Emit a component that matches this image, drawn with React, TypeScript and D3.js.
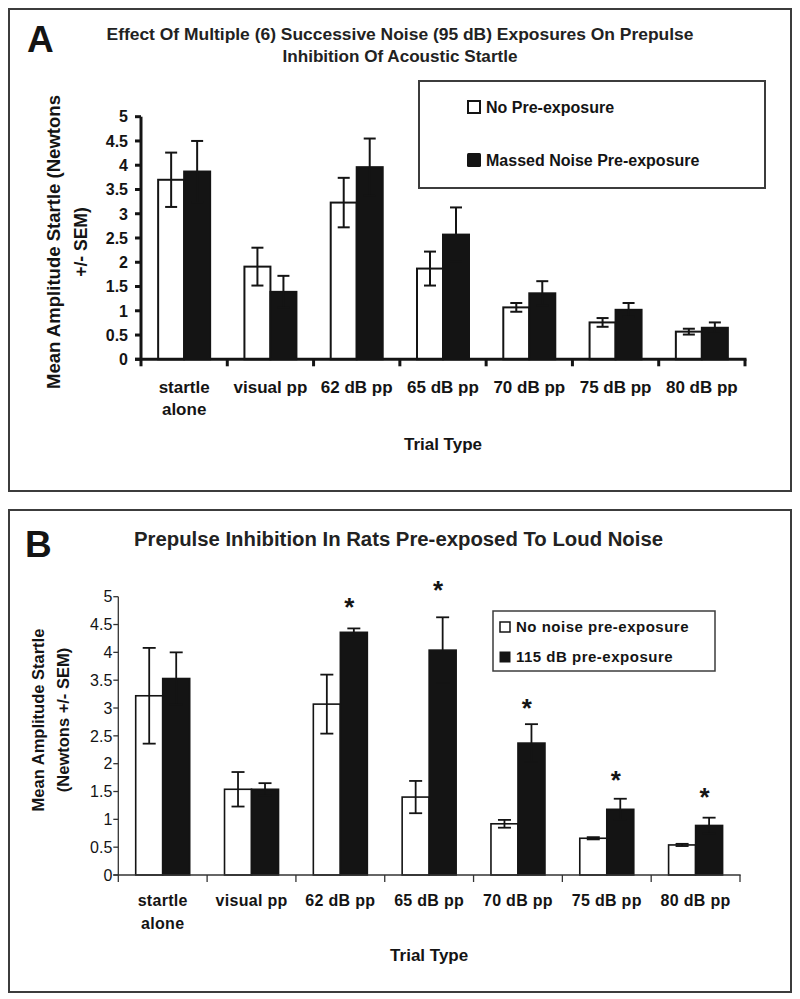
import React from "react";
import * as d3 from "d3";

// ---------- DATA ----------
const categories = ["startle alone", "visual pp", "62 dB pp", "65 dB pp", "70 dB pp", "75 dB pp", "80 dB pp"];
const categoryLines = [["startle", "alone"], ["visual pp"], ["62 dB pp"], ["65 dB pp"], ["70 dB pp"], ["75 dB pp"], ["80 dB pp"]];
const yTicks = [0, 0.5, 1, 1.5, 2, 2.5, 3, 3.5, 4, 4.5, 5];

// Panel A
const noPreA = [3.70, 1.91, 3.23, 1.87, 1.07, 0.76, 0.57];
const noPreASem = [0.56, 0.39, 0.51, 0.35, 0.09, 0.09, 0.06];
const massedA = [3.87, 1.39, 3.96, 2.57, 1.36, 1.02, 0.65];
const massedASem = [0.63, 0.33, 0.59, 0.56, 0.25, 0.14, 0.11];
const seriesNamesA = ["No Pre-exposure", "Massed Noise Pre-exposure"];

// Panel B
const noNoiseB = [3.22, 1.54, 3.07, 1.40, 0.92, 0.66, 0.54];
const noNoiseBSem = [0.86, 0.31, 0.53, 0.29, 0.07, 0.02, 0.02];
const db115B = [3.53, 1.54, 4.36, 4.04, 2.37, 1.18, 0.89];
const db115BSem = [0.47, 0.11, 0.07, 0.59, 0.34, 0.19, 0.14];
const sigStarB = [null, null, 4.90, 5.21, 3.09, 1.80, 1.49];
const seriesNamesB = ["No noise pre-exposure", "115 dB pre-exposure"];

const FONT = "'Liberation Sans', Arial, Helvetica, sans-serif";
const BLACK = "#141414";

type PanelProps = {
  left: number; right: number; top: number; bottom: number;
  white: number[]; whiteSem: number[]; black: number[]; blackSem: number[];
  barW: number; axisW: number; axisColor: string; barStroke: number; errW: number; capW: number;
  tickFont: number; tickBold: boolean; tickLabelGap: number; tickLen: number;
  catFont: number; catBase: number; catLineH: number; catSpacing: number;
  trialBase: number; trialFont: number;
  stars?: (number | null)[];
};

function Panel(p: PanelProps) {
  const x = d3.scaleBand<string>().domain(categories).range([p.left, p.right]).padding(0);
  const y = d3.scaleLinear().domain([0, 5]).range([p.bottom, p.top]);
  const inner = d3.scaleBand<string>().domain(["w", "b"]).range([-p.barW, p.barW]).padding(0);
  const bw = inner.bandwidth();
  const boundaries = [...categories.map((c) => x(c) as number), p.right];

  const bars: React.ReactNode[] = [];
  categories.forEach((c, i) => {
    const cx = (x(c) as number) + x.bandwidth() / 2;
    const groups: [string, number, number, string][] = [
      ["w", p.white[i], p.whiteSem[i], "#ffffff"],
      ["b", p.black[i], p.blackSem[i], BLACK],
    ];
    groups.forEach(([k, v, s, fill]) => {
      const bx = cx + (inner(k) as number);
      const mid = bx + bw / 2;
      bars.push(
        <rect key={`r${i}${k}`} x={bx} y={y(v)} width={bw} height={y(0) - y(v)} fill={fill} stroke={BLACK} strokeWidth={p.barStroke} />
      );
      const yt = y(v + s), yb = y(v - s);
      bars.push(
        <g key={`e${i}${k}`} stroke={BLACK} strokeWidth={p.errW}>
          <line x1={mid} x2={mid} y1={yt} y2={yb} />
          <line x1={mid - p.capW / 2} x2={mid + p.capW / 2} y1={yt} y2={yt} />
          <line x1={mid - p.capW / 2} x2={mid + p.capW / 2} y1={yb} y2={yb} />
        </g>
      );
    });
    if (p.stars && p.stars[i] != null) {
      const sx = cx + bw * 0.33;
      bars.push(
        <text key={`s${i}`} x={sx} y={y(p.stars[i] as number) + 14} fontSize={26} fontWeight="bold" textAnchor="middle" fontFamily={FONT} fill={BLACK}>*</text>
      );
    }
  });

  return (
    <g>
      {bars}
      {/* y axis */}
      <line x1={p.left} x2={p.left} y1={p.top} y2={p.bottom} stroke={p.axisColor} strokeWidth={p.axisW} />
      {yTicks.map((t) => (
        <g key={`yt${t}`}>
          <line x1={p.left - p.tickLen} x2={p.left} y1={y(t)} y2={y(t)} stroke={p.axisColor} strokeWidth={p.axisW} />
          <text x={p.left - p.tickLabelGap} y={y(t)} dy="0.36em" textAnchor="end" fontSize={p.tickFont} fontWeight={p.tickBold ? "bold" : "normal"} fontFamily={FONT} fill={BLACK}>{t}</text>
        </g>
      ))}
      {/* x axis */}
      <line x1={p.left - p.tickLen} x2={p.right + p.axisW / 2} y1={p.bottom} y2={p.bottom} stroke={p.axisColor} strokeWidth={p.axisW} />
      {boundaries.map((bx, i) => (
        <line key={`xt${i}`} x1={bx} x2={bx} y1={p.bottom} y2={p.bottom + 7} stroke={p.axisColor} strokeWidth={p.axisW} />
      ))}
      {categories.map((c, i) => (
        <text key={`xl${i}`} x={(x(c) as number) + x.bandwidth() / 2} y={p.catBase} textAnchor="middle" fontSize={p.catFont} fontWeight="bold" fontFamily={FONT} fill={BLACK} letterSpacing={p.catSpacing}>
          {categoryLines[i].map((ln, j) => (
            <tspan key={j} x={(x(c) as number) + x.bandwidth() / 2} dy={j === 0 ? 0 : p.catLineH}>{ln}</tspan>
          ))}
        </text>
      ))}
      <text x={(p.left + p.right) / 2} y={p.trialBase} textAnchor="middle" fontSize={p.trialFont} fontWeight="bold" fontFamily={FONT} fill={BLACK}>Trial Type</text>
    </g>
  );
}

export default function App() {
  return (
    <svg width={800} height={999} style={{ position: "absolute", left: 0, top: 0, display: "block", background: "#fff" }}>
      <rect x={0} y={0} width={800} height={999} fill="#fff" />
      {/* ---------- Panel A ---------- */}
      <rect x={9} y={9} width={782} height={482} fill="none" stroke="#3c3c3c" strokeWidth={2} />
      <text x={27} y={52} fontSize={37} fontWeight="bold" fontFamily={FONT} fill={BLACK}>A</text>
      <text x={400} y={40} textAnchor="middle" fontSize={16.5} fontWeight="bold" fontFamily={FONT} fill="#222" textLength={587} lengthAdjust="spacingAndGlyphs">Effect Of Multiple (6) Successive Noise (95 dB) Exposures On Prepulse</text>
      <text x={400} y={62} textAnchor="middle" fontSize={16.5} fontWeight="bold" fontFamily={FONT} fill="#222" textLength={235} lengthAdjust="spacingAndGlyphs">Inhibition Of Acoustic Startle</text>
      <g transform="translate(60,242) rotate(-90)">
        <text x={0} y={0} textAnchor="middle" fontSize={17.5} fontWeight="bold" fontFamily={FONT} fill={BLACK} textLength={294} lengthAdjust="spacingAndGlyphs">Mean Amplitude Startle (Newtons</text>
        <text x={0} y={27} textAnchor="middle" fontSize={17.5} fontWeight="bold" fontFamily={FONT} fill={BLACK}>+/- SEM)</text>
      </g>
      <rect x={419} y={81} width={346} height={107} fill="#fff" stroke="#3c3c3c" strokeWidth={2} />
      <rect x={468} y={101} width={12} height={12} fill="#fff" stroke={BLACK} strokeWidth={2} />
      <text x={486} y={113} fontSize={16} fontWeight="bold" fontFamily={FONT} fill={BLACK}>{seriesNamesA[0]}</text>
      <rect x={467} y={153} width={14} height={14} fill={BLACK} rx={1.5} />
      <text x={486} y={166} fontSize={16} fontWeight="bold" fontFamily={FONT} fill={BLACK}>{seriesNamesA[1]}</text>
      <Panel
        left={141} right={745} top={116.7} bottom={359.3}
        white={noPreA} whiteSem={noPreASem} black={massedA} blackSem={massedASem}
        barW={26} axisW={3} axisColor={BLACK} barStroke={2} errW={2} capW={12}
        tickFont={16} tickBold={true} tickLabelGap={13} tickLen={6}
        catFont={17} catBase={393} catLineH={22} catSpacing={0}
        trialBase={450} trialFont={17}
      />

      {/* ---------- Panel B ---------- */}
      <rect x={9} y={510} width={782} height={482} fill="none" stroke="#3c3c3c" strokeWidth={2} />
      <text x={25} y={557} fontSize={37} fontWeight="bold" fontFamily={FONT} fill={BLACK}>B</text>
      <text x={398.5} y={546} textAnchor="middle" fontSize={19.5} fontWeight="bold" fontFamily={FONT} fill="#222" textLength={529} lengthAdjust="spacingAndGlyphs">Prepulse Inhibition In Rats Pre-exposed To Loud Noise</text>
      <g transform="translate(44,720) rotate(-90)">
        <text x={0} y={0} textAnchor="middle" fontSize={16.5} fontWeight="bold" fontFamily={FONT} fill={BLACK}>Mean Amplitude Startle</text>
        <text x={0} y={25} textAnchor="middle" fontSize={16.5} fontWeight="bold" fontFamily={FONT} fill={BLACK}>(Newtons +/- SEM)</text>
      </g>
      <rect x={493} y={611} width={222} height={60} fill="#fff" stroke="#3c3c3c" strokeWidth={1.5} />
      <rect x={500} y={622} width={10} height={10} fill="#fff" stroke={BLACK} strokeWidth={1.5} />
      <text x={516} y={632} fontSize={15} fontWeight="bold" fontFamily={FONT} fill={BLACK} letterSpacing={0.5}>{seriesNamesB[0]}</text>
      <rect x={499.5} y={651.5} width={11} height={11} fill={BLACK} />
      <text x={516} y={662} fontSize={15} fontWeight="bold" fontFamily={FONT} fill={BLACK} letterSpacing={0.5}>{seriesNamesB[1]}</text>
      <Panel
        left={118.3} right={740} top={596.7} bottom={875}
        white={noNoiseB} whiteSem={noNoiseBSem} black={db115B} blackSem={db115BSem}
        barW={27} axisW={1.3} axisColor="#333" barStroke={1.6} errW={1.8} capW={13}
        tickFont={16} tickBold={false} tickLabelGap={6} tickLen={5}
        catFont={16} catBase={906} catLineH={23} catSpacing={0.3}
        trialBase={961} trialFont={17}
        stars={sigStarB}
      />
    </svg>
  );
}
